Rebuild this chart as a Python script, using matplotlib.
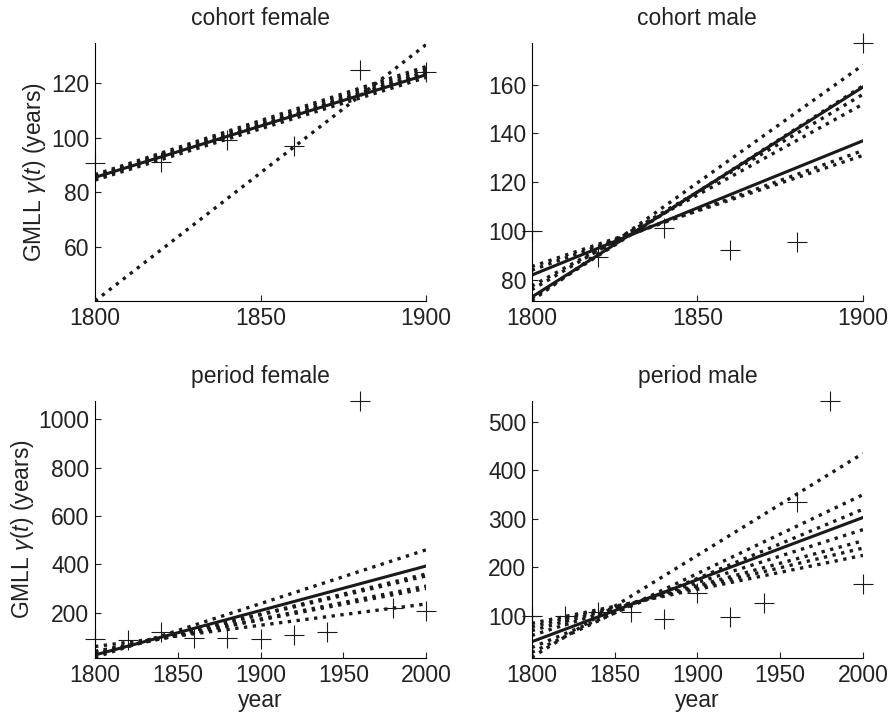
import numpy as np
import matplotlib
matplotlib.use("Agg")
from matplotlib import pyplot as plt

plt.rcParams['font.family'] = ['Liberation Sans', 'DejaVu Sans']
plt.rcParams['mathtext.fontset'] = 'custom'
plt.rcParams['mathtext.it'] = 'Liberation Sans:italic'
plt.rcParams['mathtext.rm'] = 'Liberation Sans'

# observed points (crosses)
cf_years = [1800, 1820, 1840, 1860, 1880, 1900]
cf_obs = [90.6, 91, 99.3, 96.8, 124.8, 124.1]
cm_years = [1800, 1820, 1840, 1860, 1880, 1900]
cm_obs = [100, 89.5, 101.3, 92.2, 95.6, 177]
pf_years = [1800, 1820, 1840, 1860, 1880, 1900, 1920, 1940, 1960, 1980, 2000]
pf_obs = [90, 88, 121, 94, 94, 90, 108, 121, 1076, 220, 207]
pm_years = [1800, 1820, 1840, 1860, 1880, 1900, 1920, 1940, 1960, 1980, 2000]
pm_obs = [100, 101, 109, 109, 93, 147, 99, 126, 335, 542, 165]

# fitted trend lines: value at first year, value at last year
cf_solid = [(85.5, 123.0)]
cf_dotted = [(84.5, 122.0), (85.0, 124.0), (86.0, 125.0), (86.5, 126.0),
             (85.8, 123.5), (40.3, 134.0)]
cm_solid = [(82.0, 137.0), (73.0, 159.0)]
cm_dotted = [(85.5, 131.0), (84.0, 133.0), (71.5, 168.0), (72.5, 159.5),
             (76.0, 156.0), (77.5, 152.0)]
pf_solid = [(25.0, 393.0)]
pf_dotted = [(15.0, 460.0), (28.0, 360.0), (30.0, 352.0), (38.0, 310.0),
             (40.0, 300.0), (60.0, 236.0)]
pm_solid = [(47.0, 303.0)]
pm_dotted = [(15.0, 435.0), (25.0, 350.0), (35.0, 320.0), (60.0, 278.0),
             (70.0, 255.0), (78.0, 240.0), (85.0, 225.0)]

panels = [
    ("cohort female", cf_years, cf_obs, cf_solid, cf_dotted, (1800, 1900), (40.3, 134.6),
     [60, 80, 100, 120], [0.1064, 0.5796, 0.3707, 0.3603]),
    ("cohort male", cm_years, cm_obs, cm_solid, cm_dotted, (1800, 1900), (71.4, 177),
     [80, 100, 120, 140, 160], [0.5954, 0.5796, 0.371, 0.3603]),
    ("period female", pf_years, pf_obs, pf_solid, pf_dotted, (1800, 2000), (12.4, 1076),
     [200, 400, 600, 800, 1000], [0.1064, 0.081, 0.3707, 0.359]),
    ("period male", pm_years, pm_obs, pm_solid, pm_dotted, (1800, 2000), (13.6, 543),
     [100, 200, 300, 400, 500], [0.5954, 0.081, 0.371, 0.359]),
]

fig = plt.figure(figsize=(8.93, 7.16), dpi=100)

for i, (title, yrs, obs, solid, dotted, xl, yl, yt, pos) in enumerate(panels):
    ax = fig.add_axes(pos)
    for a, b in dotted:
        ax.plot(xl, [a, b], ':', color='#1a1a1a', lw=2.4)
    for a, b in solid:
        ax.plot(xl, [a, b], '-', color='#1a1a1a', lw=2.2)
    ax.plot(yrs, obs, '+', color='#1a1a1a', markersize=15, mew=0.8, clip_on=False)
    ax.set_xlim(xl)
    ax.set_ylim(yl)
    ax.set_yticks(yt)
    if xl[1] == 1900:
        ax.set_xticks([1800, 1850, 1900])
    else:
        ax.set_xticks([1800, 1850, 1900, 1950, 2000])
    ax.spines['top'].set_visible(False)
    ax.spines['right'].set_visible(False)
    ax.tick_params(direction='in', length=4, labelsize=16.5, pad=4, color='#222222',
                   labelcolor='#222222')
    ax.set_title(title, fontsize=16.5, pad=13, color='#222222')
    if i % 2 == 0:
        ax.set_ylabel(r'GMLL $\gamma$($t$) (years)', fontsize=16.5, color='#222222', labelpad=2)
    if i >= 2:
        ax.set_xlabel('year', fontsize=16.5, color='#222222', labelpad=2)

fig.savefig('out.png', dpi=100)
